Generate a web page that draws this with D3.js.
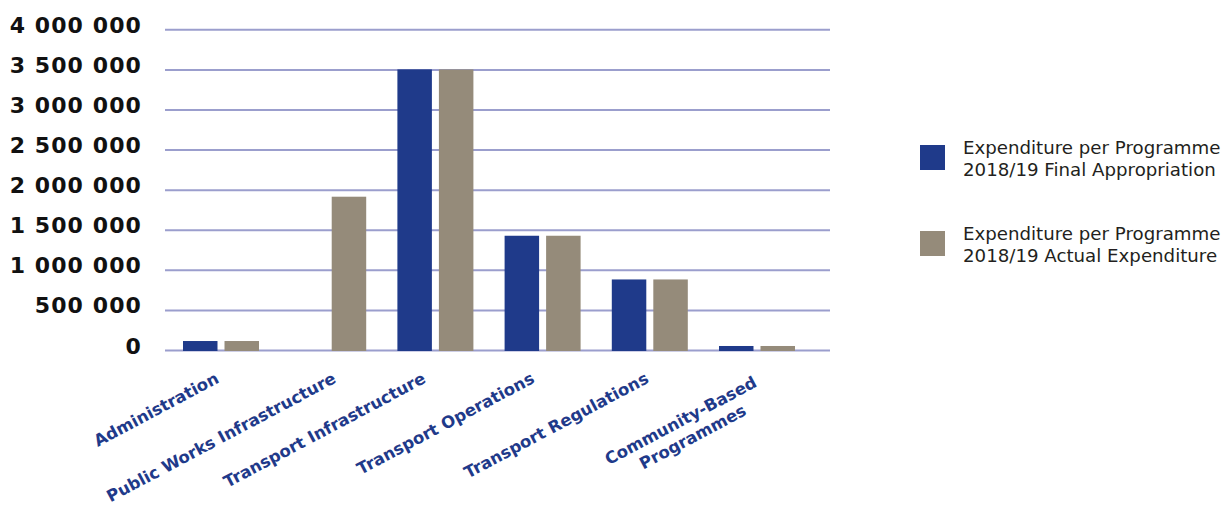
<!DOCTYPE html>
<html><head><meta charset="utf-8">
<script src="https://cdn.jsdelivr.net/npm/d3@7"></script>
<style>body{margin:0;background:#fff} svg{display:block}</style>
</head><body><svg id="c" width="1231" height="507"></svg>
<script>
const categories = ["Administration","Public Works Infrastructure","Transport Infrastructure","Transport Operations","Transport Regulations","Community-Based Programmes"];
const categoryLines = [["Administration"],["Public Works Infrastructure"],["Transport Infrastructure"],["Transport Operations"],["Transport Regulations"],["Community-Based","Programmes"]];
const finalAppropriation = [112000, 0, 3500000, 1425000, 880000, 50000];
const actualExpenditure = [112000, 1912000, 3500000, 1425000, 880000, 50000];
const seriesNames = [["Expenditure per Programme","2018/19 Final Appropriation"],["Expenditure per Programme","2018/19 Actual Expenditure"]];
const yTicks = [0, 500000, 1000000, 1500000, 2000000, 2500000, 3000000, 3500000, 4000000];

// layout / style
const colors = ["#1f3a8a", "#958b7a"];
const labelNudge = [[-1,0],[9,0],[-8.5,0],[-7,0],[0,0],[1,4]];

const svg = d3.select("#c");
const gridLeft = 165, gridRight = 830;
const y = d3.scaleLinear().domain([0, 4000000]).range([350, 29.3]);
const x0 = d3.scaleBand().domain(categories).range([167.4, 810.6]).paddingInner(0.291).paddingOuter(0.1455);
const x1 = d3.scaleBand().domain([0,1]).range([0, x0.bandwidth()]).paddingInner(0.169).paddingOuter(0);

const fmt = v => d3.format(",")(v).replace(/,/g, " ");

const yAxis = d3.axisLeft(y).tickValues(yTicks).tickSize(-(gridRight - gridLeft)).tickPadding(gridLeft - 142).tickFormat(fmt);
const ga = svg.append("g").attr("transform", `translate(${gridLeft},0)`).call(yAxis);
ga.select(".domain").remove();
ga.selectAll(".tick line").attr("stroke", "#9b9ecd").attr("stroke-width", 2);
ga.selectAll(".tick text").attr("dy", "3").attr("fill", "#111")
  .style("font-family", "DejaVu Sans").style("font-weight", "bold").style("font-size", "22px").style("letter-spacing", "1.1px");

const series = [finalAppropriation, actualExpenditure];
const groups = svg.append("g").selectAll("g").data(categories).join("g")
  .attr("transform", d => `translate(${x0(d)},0)`);
groups.selectAll("rect").data((d, i) => series.map((s, k) => ({k, v: s[i]}))).join("rect")
  .filter(d => d.v > 0)
  .attr("x", d => x1(d.k)).attr("width", x1.bandwidth())
  .attr("y", d => y(d.v)).attr("height", d => y(0) - y(d.v) + 1)
  .attr("fill", d => colors[d.k]);

// x labels
const lab = svg.append("g").selectAll("g").data(categories).join("g")
  .attr("transform", (d, i) => `translate(${x0(d) + x0.bandwidth()/2 + labelNudge[i][0]},${382 + labelNudge[i][1]}) rotate(-28)`)
  .style("font-family", "DejaVu Sans").style("font-weight", "bold").style("font-size", "16.5px").attr("fill", "#1f3a8a");
lab.each(function(d, i) {
  const g = d3.select(this);
  const lines = categoryLines[i];
  const t0 = g.append("text").attr("text-anchor", "end").text(lines[0]);
  if (lines.length > 1) {
    const w = t0.node().getComputedTextLength();
    g.append("text").attr("text-anchor", "middle").attr("x", -w/2 + 3).attr("y", 20).text(lines[1]);
  }
});

// legend
const leg = svg.append("g").selectAll("g").data(seriesNames).join("g")
  .attr("transform", (d, i) => `translate(920,${145 + i*86})`);
leg.append("rect").attr("width", 25).attr("height", 25).attr("fill", (d, i) => colors[i]);
leg.each(function(d) {
  const t = d3.select(this).append("text")
    .style("font-family", "DejaVu Sans").style("font-size", "18.2px").attr("fill", "#231f20");
  d.forEach((line, j) => t.append("tspan").attr("x", 43).attr("y", 9.3 + j*21.4).text(line));
});
</script></body></html>
